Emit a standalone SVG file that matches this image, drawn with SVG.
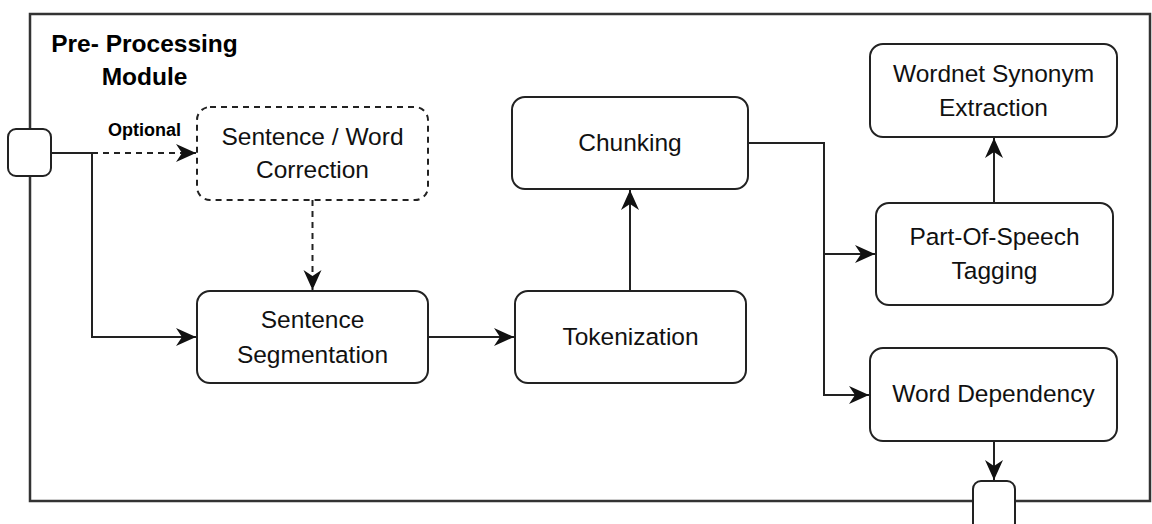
<svg xmlns="http://www.w3.org/2000/svg" width="1152" height="524" viewBox="0 0 1152 524">
  <style>
    .frame { fill: none; stroke: #333; stroke-width: 2.5; }
    .box { fill: #fff; stroke: #222; stroke-width: 2; }
    .dashed { stroke-dasharray: 6 5; }
    .port { fill: #fff; stroke: #222; stroke-width: 2; }
    .edge { fill: none; stroke: #222; stroke-width: 2; }
    .label { font-family: "Liberation Sans", Arial, sans-serif; font-size: 24.5px; fill: #111; text-anchor: middle; }
    .title { font-family: "Liberation Sans", Arial, sans-serif; font-size: 24.5px; font-weight: bold; fill: #000; text-anchor: middle; }
    .note { font-family: "Liberation Sans", Arial, sans-serif; font-size: 18px; font-weight: bold; fill: #000; }
  </style>
  <defs>
    <!-- classic arrowhead with a notched back, 20 long x 18 wide -->
    <marker id="arrow" markerUnits="userSpaceOnUse" viewBox="0 0 21 19" markerWidth="21" markerHeight="19" refX="20" refY="9.5" orient="auto">
      <path d="M0,0.5 L20,9.5 L0,18.5 L6,9.5 Z" fill="#111"/>
    </marker>
  </defs>
  <rect width="1152" height="524" fill="#fff"/>

  <!-- module container -->
  <g id="module">
    <rect class="frame" x="30" y="14" width="1120" height="487"/>
    <text class="title" x="144.5" y="52">Pre- Processing</text>
    <text class="title" x="144.5" y="85">Module</text>
  </g>

  <!-- connectors -->
  <g id="connectors">
    <polyline class="edge" points="51,153 92,153 92,337 196,337" marker-end="url(#arrow)"/>
    <line class="edge dashed" x1="92" y1="153" x2="196" y2="153" marker-end="url(#arrow)"/>
    <line class="edge dashed" x1="312.5" y1="200" x2="312.5" y2="290" marker-end="url(#arrow)"/>
    <line class="edge" x1="428" y1="337" x2="514" y2="337" marker-end="url(#arrow)"/>
    <line class="edge" x1="630" y1="291" x2="630" y2="190" marker-end="url(#arrow)"/>
    <polyline class="edge" points="748,143 824,143 824,395 869,395" marker-end="url(#arrow)"/>
    <line class="edge" x1="824" y1="254" x2="875" y2="254" marker-end="url(#arrow)"/>
    <line class="edge" x1="994" y1="203" x2="994" y2="138" marker-end="url(#arrow)"/>
    <line class="edge" x1="994" y1="441" x2="994" y2="480" marker-end="url(#arrow)"/>
    <text class="note" x="108" y="136">Optional</text>
  </g>

  <g id="port-in">
    <rect class="port" x="8" y="129" width="43" height="47" rx="8"/>
  </g>
  <g id="port-out">
    <rect class="port" x="973" y="481" width="42" height="50" rx="8"/>
  </g>

  <g id="correction">
    <rect class="box dashed" x="197" y="107" width="231" height="93" rx="13"/>
    <text class="label" x="312.5" y="145">Sentence / Word</text>
    <text class="label" x="312.5" y="178">Correction</text>
  </g>

  <g id="segmentation">
    <rect class="box" x="197" y="291" width="231" height="92" rx="13"/>
    <text class="label" x="312.5" y="328">Sentence</text>
    <text class="label" x="312.5" y="363">Segmentation</text>
  </g>

  <g id="tokenization">
    <rect class="box" x="515" y="291" width="231" height="92" rx="13"/>
    <text class="label" x="630.5" y="345">Tokenization</text>
  </g>

  <g id="chunking">
    <rect class="box" x="512" y="97" width="236" height="92" rx="13"/>
    <text class="label" x="630" y="151">Chunking</text>
  </g>

  <g id="pos-tagging">
    <rect class="box" x="876" y="203" width="237" height="102" rx="13"/>
    <text class="label" x="994.5" y="245">Part-Of-Speech</text>
    <text class="label" x="994.5" y="279">Tagging</text>
  </g>

  <g id="wordnet">
    <rect class="box" x="870" y="44" width="247" height="93" rx="13"/>
    <text class="label" x="993.5" y="82">Wordnet Synonym</text>
    <text class="label" x="993.5" y="116">Extraction</text>
  </g>

  <g id="dependency">
    <rect class="box" x="870" y="348" width="247" height="93" rx="13"/>
    <text class="label" x="993.5" y="402">Word Dependency</text>
  </g>
</svg>
